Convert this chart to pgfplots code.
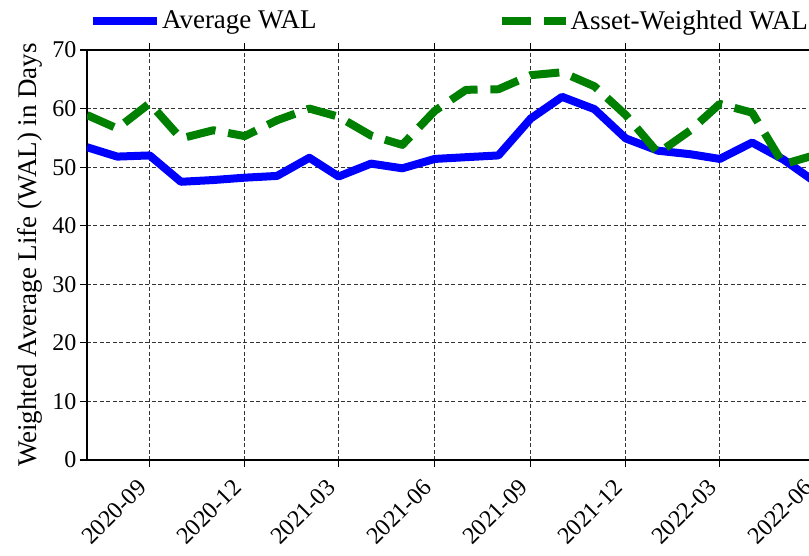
\documentclass[border=0pt]{standalone}
\usepackage{fontspec}
\setmainfont{Liberation Serif}
\usepackage{pgfplots}
\pgfplotsset{compat=1.18}
\definecolor{mblue}{RGB}{0,0,255}
\definecolor{mgreen}{RGB}{0,128,0}
\begin{document}
\begin{tikzpicture}
\begin{axis}[
 scale only axis, width=728.8bp, height=410bp,
 xmin=2, xmax=700, ymin=0, ymax=70,
 xtick={62,153,243,335,427,518,608,700},
 xticklabels={{\mbox{2020-09}},{\mbox{2020-12}},{\mbox{2021-03}},{\mbox{2021-06}},{\mbox{2021-09}},{\mbox{2021-12}},{\mbox{2022-03}},{\mbox{2022-06}}},
 ytick={0,10,...,70},
 tick align=outside, major tick length=7bp,
 tick style={black, line width=1.2bp},
 axis line style={line width=2.5bp},
 grid=major, grid style={black!80, line width=0.8bp, dash pattern=on 4bp off 2.5bp},
 xticklabel style={xshift=-13bp, yshift=-8bp, rotate=45, anchor=north east, inner sep=2bp, font=\fontsize{24bp}{28bp}\selectfont},
 y tick label style={font=\fontsize{24bp}{28bp}\selectfont},
 /pgf/number format/assume math mode=true,
 ylabel={Weighted Average Life (WAL) in Days},
 every axis y label/.style={at={(axis description cs:-0.078,0.5)}, rotate=90, anchor=center, font=\fontsize{27bp}{30bp}\selectfont},
 legend columns=2,
 legend style={at={(axis description cs:0.0025,1.044)}, anchor=south west, draw=none, fill=none, inner sep=0pt,
   font=\fontsize{27bp}{30bp}\selectfont, nodes={inner sep=1bp},
   /tikz/every even column/.append style={column sep=180bp}},
 legend image code/.code={\draw[#1] (0bp,0bp) -- (64bp,0bp);},
]
\addplot[mblue, line width=8bp, line join=round] coordinates {
(2,53.4) (31,51.8) (62,52.0) (92,47.5) (123,47.8) (153,48.2) (184,48.5) (215,51.6)
(243,48.4) (274,50.6) (304,49.8) (335,51.4) (365,51.7) (396,52.0) (427,58.3) (457,62.0)
(488,59.9) (518,54.9) (549,52.8) (580,52.2) (608,51.4) (639,54.2) (669,51.3) (700,47.4)};
\addlegendentry{Average WAL}
\addplot[mgreen, line width=8bp, line join=round, dash pattern=on 29.6bp off 12.8bp] coordinates {
(2,58.9) (31,56.6) (62,60.9) (92,54.9) (123,56.3) (153,55.3) (184,58.0) (215,60.0)
(243,58.6) (274,55.4) (304,53.8) (335,59.6) (365,63.2) (396,63.3) (427,65.7) (457,66.2)
(488,63.8) (518,58.9) (549,52.4) (580,56.3) (608,60.8) (639,59.3) (669,50.5) (700,52.1)};
\addlegendentry{Asset-Weighted WAL}
\end{axis}
\pgfresetboundingbox
\useasboundingbox (-87bp,-96bp) rectangle (722bp,460bp);
\end{tikzpicture}
\end{document}
